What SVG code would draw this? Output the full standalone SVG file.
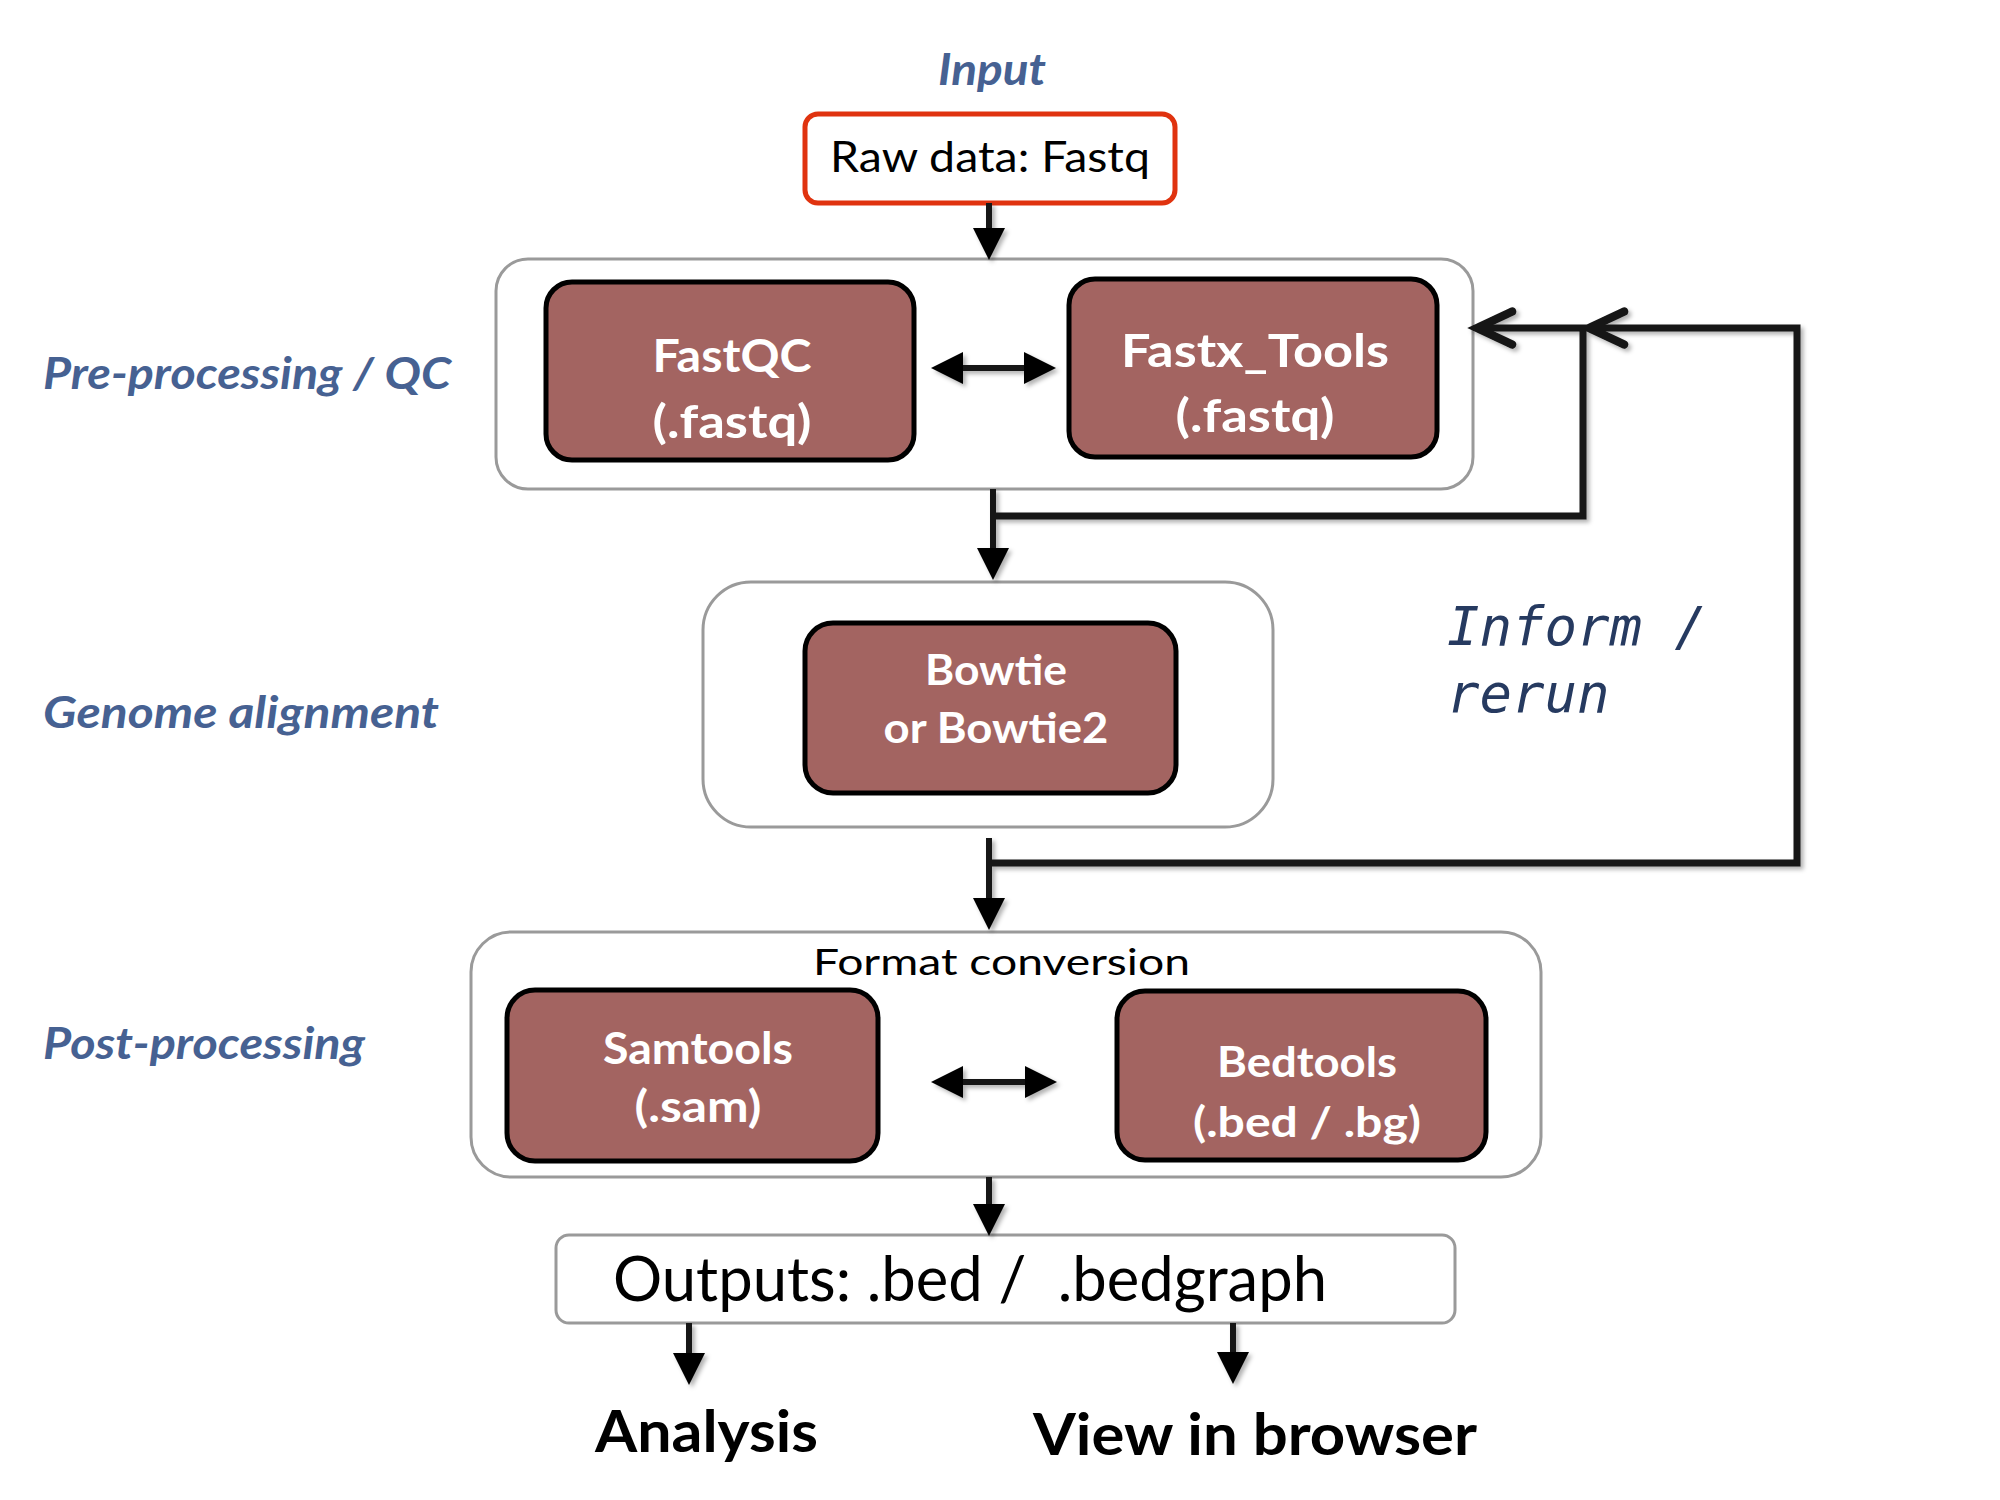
<svg xmlns="http://www.w3.org/2000/svg" width="2000" height="1500" viewBox="0 0 2000 1500">
  <defs>
    <style>
      .cont { fill: #ffffff; stroke: #9a9a9a; stroke-width: 3; }
      .tool { fill: #A36461; stroke: #000000; stroke-width: 5; }
      .tooltxt { font-family: Lato, "Open Sans", sans-serif; font-weight: bold; fill: #ffffff; text-anchor: middle; }
      .stage { font-family: Lato, "Open Sans", sans-serif; font-weight: bold; font-style: italic; fill: #466192; font-size: 43px; }
      .plain { font-family: Lato, "Open Sans", sans-serif; fill: #000000; }
      .mono { font-family: "DejaVu Sans Mono", "Liberation Mono", monospace; font-style: italic; fill: #263a60; font-size: 54px; }
      .line { fill: none; stroke: #141414; stroke-width: 6; }
      .fb { fill: none; stroke: #141414; stroke-width: 7; }
    </style>
    <marker id="tri" markerUnits="userSpaceOnUse" markerWidth="32" markerHeight="32" viewBox="0 0 30 30" refX="0" refY="15" orient="auto-start-reverse" overflow="visible">
      <path d="M0,0 L30,15 L0,30 z" fill="#000000"/>
    </marker>
    <marker id="chev" markerUnits="userSpaceOnUse" markerWidth="44" markerHeight="44" viewBox="0 0 40 40" refX="37" refY="20" orient="auto" overflow="visible">
      <path d="M5,5 L37,20 L5,35" fill="none" stroke="#141414" stroke-width="7.5" stroke-linecap="round" stroke-linejoin="miter"/>
    </marker>
    <filter id="sh" x="-10%" y="-10%" width="120%" height="120%">
      <feDropShadow dx="3" dy="3" stdDeviation="2" flood-color="#000000" flood-opacity="0.3"/>
    </filter>
  </defs>

  <rect width="2000" height="1500" fill="#ffffff"/>

  <!-- stage labels -->
  <g id="labels">
    <text x="992" y="85" class="stage" font-size="42" text-anchor="middle" textLength="108" lengthAdjust="spacingAndGlyphs">Input</text>
    <text x="43" y="389" class="stage" textLength="408" lengthAdjust="spacingAndGlyphs">Pre-processing / QC</text>
    <text x="43" y="728" class="stage" textLength="396" lengthAdjust="spacingAndGlyphs">Genome alignment</text>
    <text x="43" y="1059" class="stage" textLength="322" lengthAdjust="spacingAndGlyphs">Post-processing</text>
    <text x="1447" y="645" class="mono">Inform /</text>
    <text x="1447" y="712" class="mono">rerun</text>
  </g>

  <!-- containers -->
  <g id="preprocessing-group">
    <rect class="cont" x="496" y="259" width="977" height="230" rx="32"/>
  </g>
  <g id="alignment-group">
    <rect class="cont" x="703" y="582" width="570" height="245" rx="48"/>
  </g>
  <g id="postprocessing-group">
    <rect class="cont" x="471" y="932" width="1070" height="245" rx="40"/>
    <text x="813" y="975" class="plain" font-size="36" fill="#262626" textLength="377" lengthAdjust="spacingAndGlyphs">Format conversion</text>
  </g>

  <!-- nodes -->
  <g id="raw-data">
    <rect x="805" y="114" width="370" height="89" rx="13" fill="#ffffff" stroke="#E0330F" stroke-width="5"/>
    <text x="830" y="172" class="plain" font-size="42" textLength="320" lengthAdjust="spacingAndGlyphs">Raw data: Fastq</text>
  </g>
  <g id="fastqc">
    <rect class="tool" x="546" y="282" width="368" height="178" rx="26"/>
    <text x="732" y="372" class="tooltxt" font-size="45" textLength="159" lengthAdjust="spacingAndGlyphs">FastQC</text>
    <text x="732" y="438" class="tooltxt" font-size="45" textLength="159" lengthAdjust="spacingAndGlyphs">(.fastq)</text>
  </g>
  <g id="fastx-tools">
    <rect class="tool" x="1069" y="279" width="368" height="178" rx="26"/>
    <text x="1255" y="367" class="tooltxt" font-size="45" textLength="268" lengthAdjust="spacingAndGlyphs">Fastx_Tools</text>
    <text x="1255" y="432" class="tooltxt" font-size="45" textLength="159" lengthAdjust="spacingAndGlyphs">(.fastq)</text>
  </g>
  <g id="bowtie">
    <rect class="tool" x="805" y="623" width="371" height="170" rx="28"/>
    <text x="996" y="685" class="tooltxt" font-size="42" textLength="142" lengthAdjust="spacingAndGlyphs">Bowtie</text>
    <text x="996" y="743" class="tooltxt" font-size="42" textLength="225" lengthAdjust="spacingAndGlyphs">or Bowtie2</text>
  </g>
  <g id="samtools">
    <rect class="tool" x="507" y="990" width="371" height="171" rx="28"/>
    <text x="698" y="1064" class="tooltxt" font-size="43" textLength="190" lengthAdjust="spacingAndGlyphs">Samtools</text>
    <text x="698" y="1122" class="tooltxt" font-size="43" textLength="127" lengthAdjust="spacingAndGlyphs">(.sam)</text>
  </g>
  <g id="bedtools">
    <rect class="tool" x="1117" y="991" width="369" height="169" rx="28"/>
    <text x="1307" y="1077" class="tooltxt" font-size="42" textLength="180" lengthAdjust="spacingAndGlyphs">Bedtools</text>
    <text x="1307" y="1137" class="tooltxt" font-size="42" textLength="228" lengthAdjust="spacingAndGlyphs">(.bed / .bg)</text>
  </g>
  <g id="outputs">
    <rect x="556" y="1235" width="899" height="88" rx="13" fill="#ffffff" stroke="#9a9a9a" stroke-width="3"/>
    <text x="613" y="1301" class="plain" font-size="61" textLength="714" lengthAdjust="spacingAndGlyphs" xml:space="preserve">Outputs: .bed /  .bedgraph</text>
  </g>
  <g id="analysis">
    <text x="595" y="1452" class="plain" font-size="57" font-weight="bold" textLength="223" lengthAdjust="spacingAndGlyphs">Analysis</text>
  </g>
  <g id="view-in-browser">
    <text x="1033" y="1455" class="plain" font-size="57" font-weight="bold" textLength="444" lengthAdjust="spacingAndGlyphs">View in browser</text>
  </g>

  <!-- connectors -->
  <g id="connectors" filter="url(#sh)">
    <path class="line" d="M989,203 V228" marker-end="url(#tri)"/>
    <path class="line" d="M963,368 H1024" marker-start="url(#tri)" marker-end="url(#tri)"/>
    <path class="line" d="M993,489 V548" marker-end="url(#tri)"/>
    <path class="fb" d="M993,516 H1583 V328 H1477" marker-end="url(#chev)"/>
    <path class="fb" d="M989,863 H1797 V328 H1589" marker-end="url(#chev)"/>
    <path class="line" d="M989,838 V898" marker-end="url(#tri)"/>
    <path class="line" d="M963,1082 H1025" marker-start="url(#tri)" marker-end="url(#tri)"/>
    <path class="line" d="M989,1177 V1204" marker-end="url(#tri)"/>
    <path class="line" d="M689,1323 V1353" marker-end="url(#tri)"/>
    <path class="line" d="M1233,1323 V1352" marker-end="url(#tri)"/>
  </g>
</svg>
